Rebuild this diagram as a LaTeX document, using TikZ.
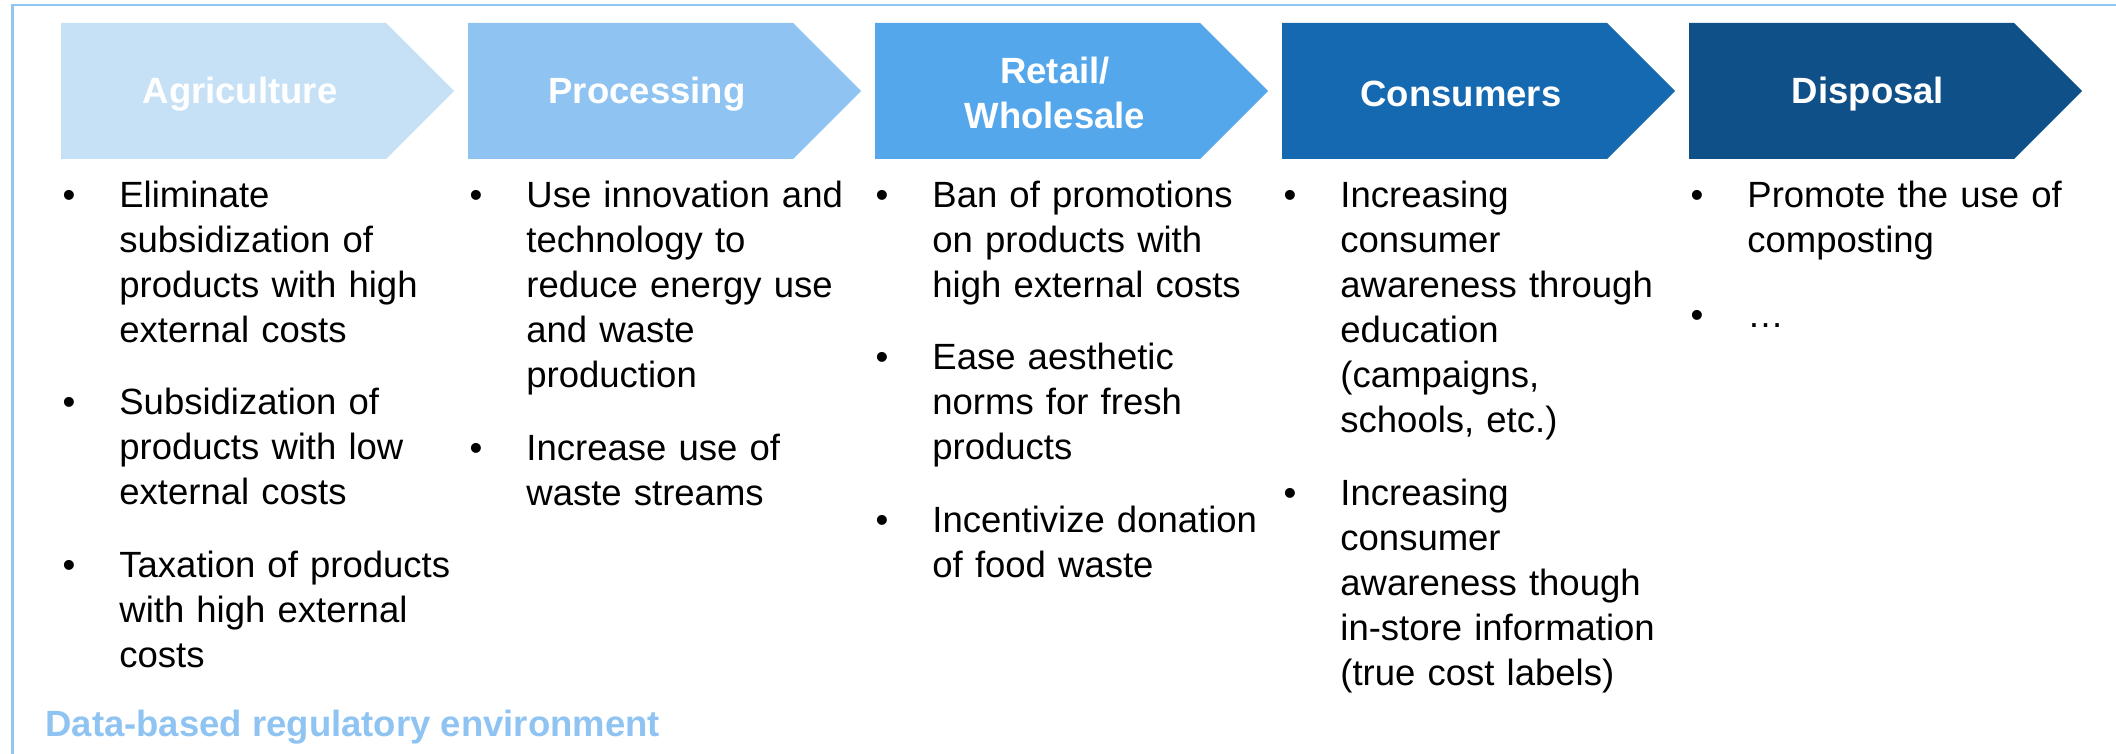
\documentclass[tikz,border=0pt]{standalone}
\usepackage{fontspec}
\setmainfont{Liberation Sans}
\usepackage{xcolor}
\usetikzlibrary{positioning}

\definecolor{agricol}{HTML}{C6E1F6}
\definecolor{proccol}{HTML}{8EC3F2}
\definecolor{retailcol}{HTML}{55A7EC}
\definecolor{conscol}{HTML}{1569B0}
\definecolor{dispcol}{HTML}{105088}
\definecolor{framecol}{HTML}{92C6F2}
\definecolor{envcol}{HTML}{8FC4F2}

\begin{document}
\begin{tikzpicture}[
    x=0.5pt, y=-0.5pt,
    stage/.style={text=white, font=\fontsize{18.25pt}{22.5pt}\selectfont\bfseries, align=center, inner sep=0pt},
    item/.style={anchor=base west, text width=175pt, align=left, inner sep=0pt, font=\fontsize{18.25pt}{22.5pt}\selectfont},
    bul/.style={anchor=base, inner sep=0pt, font=\fontsize{18.25pt}{22.5pt}\selectfont},
    envtitle/.style={anchor=base west, inner sep=0pt, text=envcol, font=\fontsize{18.25pt}{22.5pt}\selectfont\bfseries}
]
    \useasboundingbox (0,0) rectangle (2116,754);
    \draw[framecol, line width=1.3pt] (12.6,754) -- (12.6,5) -- (2116,5);

    % chevrons
    \fill[agricol] (61,23) -- (386,23) -- (454,91) -- (386,159) -- (61,159) -- cycle;
    \fill[proccol] (468,23) -- (793,23) -- (861,91) -- (793,159) -- (468,159) -- cycle;
    \fill[retailcol] (875,23) -- (1200,23) -- (1268,91) -- (1200,159) -- (875,159) -- cycle;
    \fill[conscol] (1282,23) -- (1607,23) -- (1675,91) -- (1607,159) -- (1282,159) -- cycle;
    \fill[dispcol] (1689,23) -- (2014,23) -- (2082,91) -- (2014,159) -- (1689,159) -- cycle;

    \node[stage] (agri) at (240,94) {Agriculture};
    \node[stage] (proc) at (647,94) {Processing};
    \node[stage] (retail) at (1055,93) {Retail/\\Wholesale};
    \node[stage] (cons) at (1461,94) {Consumers};
    \node[stage] (disp) at (1868,94) {Disposal};

    % agriculture
    \node[bul] at (69,208) {•};
    \node[item] (agri1) at (119,208) {Eliminate\\subsidization of\\products with high\\external costs};
    \node[bul] at (69,415) {•};
    \node[item] (agri2) at (119,415) {Subsidization of\\products with low\\external costs};
    \node[bul] at (69,577) {•};
    \node[item] (agri3) at (119,577) {Taxation of products\\with high external\\costs};

    % processing
    \node[bul] at (476,208) {•};
    \node[item] (proc1) at (526,208) {Use innovation and\\technology to\\reduce energy use\\and waste\\production};
    \node[bul] at (476,460) {•};
    \node[item] (proc2) at (526,460) {Increase use of\\waste streams};

    % retail
    \node[bul] at (882,208) {•};
    \node[item] (retail1) at (932,208) {Ban of promotions\\on products with\\high external costs};
    \node[bul] at (882,370) {•};
    \node[item] (retail2) at (932,370) {Ease aesthetic\\norms for fresh\\products};
    \node[bul] at (882,532) {•};
    \node[item] (retail3) at (932,532) {Incentivize donation\\of food waste};

    % consumers
    \node[bul] at (1290,208) {•};
    \node[item] (cons1) at (1340,208) {Increasing\\consumer\\awareness through\\education\\(campaigns,\\schools, etc.)};
    \node[bul] at (1290,505) {•};
    \node[item] (cons2) at (1340,505) {Increasing\\consumer\\awareness though\\in-store information\\(true cost labels)};

    % disposal
    \node[bul] at (1697,208) {•};
    \node[item] (disp1) at (1747,208) {Promote the use of\\composting};
    \node[bul] at (1697,328) {•};
    \node[item] (disp2) at (1747,328) {…};

    \node[envtitle] (env) at (45,736) {Data-based regulatory environment};
\end{tikzpicture}
\end{document}
